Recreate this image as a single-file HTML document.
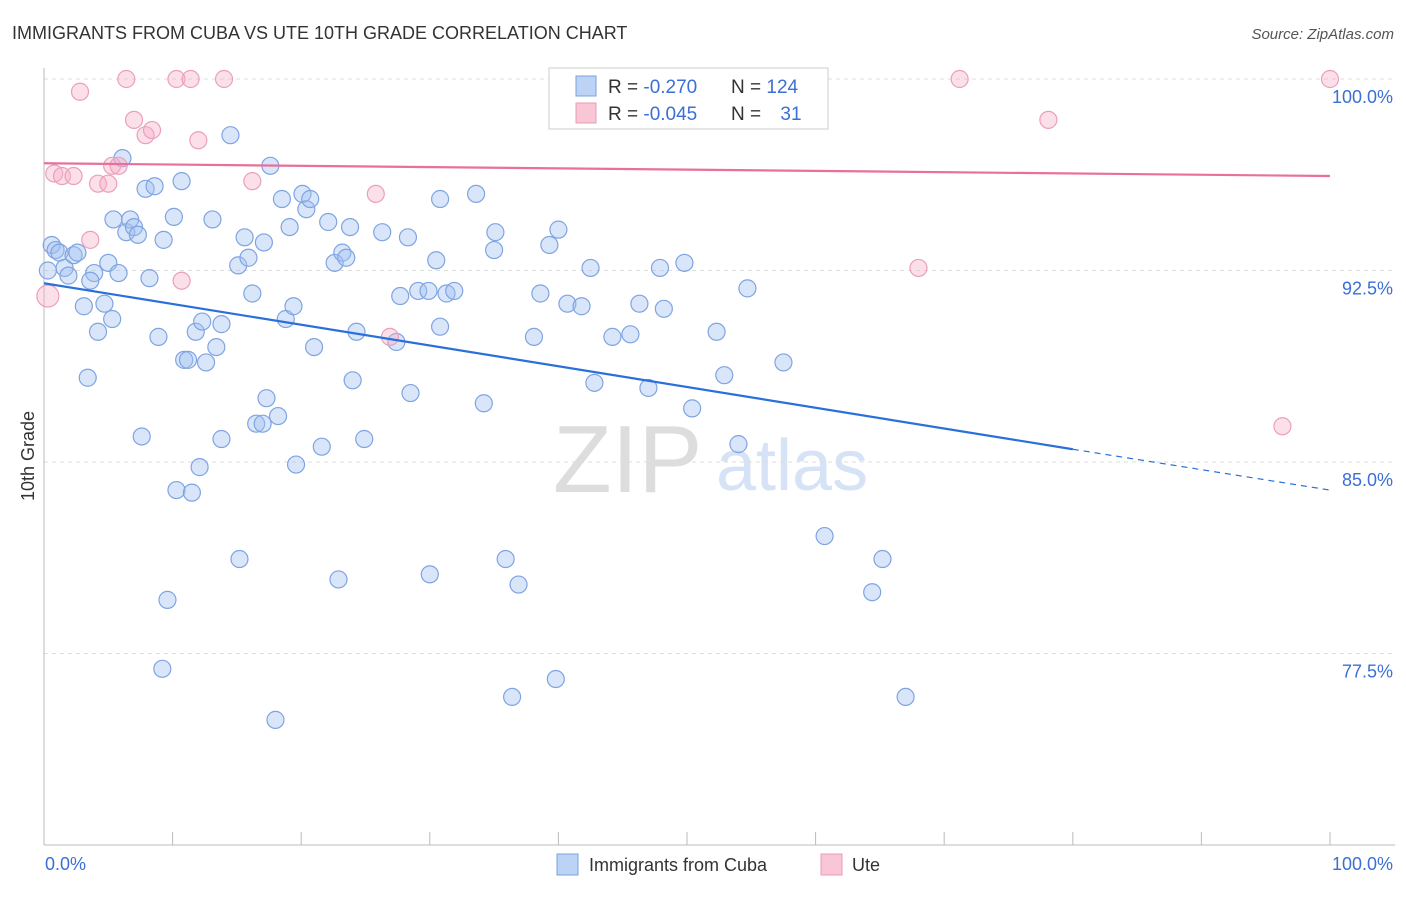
<!DOCTYPE html>
<html><head><meta charset="utf-8"><style>
body{margin:0;background:#fff;font-family:"Liberation Sans",sans-serif;}
svg text{font-family:"Liberation Sans",sans-serif;}
</style></head><body>
<svg id="chart" width="1406" height="892" viewBox="0 0 1406 892" xmlns="http://www.w3.org/2000/svg">
<text x="12" y="39" font-size="18" fill="#333">IMMIGRANTS FROM CUBA VS UTE 10TH GRADE CORRELATION CHART</text>
<text x="1394" y="39" font-size="15" fill="#555" text-anchor="end" font-style="italic">Source: ZipAtlas.com</text>
<text transform="translate(34,456) rotate(-90)" font-size="18" fill="#333" text-anchor="middle">10th Grade</text>
<g>
<text x="553" y="492" font-size="96" fill="#ddd" font-family="Liberation Serif">ZIP</text>
<text x="716" y="490" font-size="72" fill="#d6e2f5">atlas</text>
</g>
<g id="grid"></g><g id="axes"></g><g id="pts"></g><g id="trends"></g>
<g>
<rect x="549" y="68" width="279" height="61" fill="#fff" stroke="#ccc"/>
<rect x="576" y="76" width="20" height="20" fill="#bcd3f5" stroke="#7aa0e0"/>
<rect x="576" y="103" width="20" height="20" fill="#f9c6d6" stroke="#e99ab5"/>
<text x="608" y="93" font-size="19" fill="#333">R = <tspan fill="#3b6fd6">-0.270</tspan></text>
<text x="731" y="93" font-size="19" fill="#333">N = <tspan fill="#3b6fd6">124</tspan></text>
<text x="608" y="120" font-size="19" fill="#333">R = <tspan fill="#3b6fd6">-0.045</tspan></text>
<text x="731" y="120" font-size="19" fill="#333">N = <tspan fill="#3b6fd6" dx="14">31</tspan></text>
</g>
<g>
<rect x="557" y="854" width="21" height="21" fill="#bcd3f5" stroke="#7aa0e0"/>
<text x="589" y="871" font-size="18" fill="#333">Immigrants from Cuba</text>
<rect x="821" y="854" width="21" height="21" fill="#f9c6d6" stroke="#e99ab5"/>
<text x="852" y="871" font-size="18" fill="#333">Ute</text>
</g>
</svg>
<script>
const yTicks=[100,92.5,85,77.5];
const yTickLabels=["100.0%","92.5%","85.0%","77.5%"];
const xEndLabels=["0.0%","100.0%"];
const cubaX=[0.6,0.9,1.2,1.6,1.9,2.3,2.6,0.3,3.1,3.4,3.9,3.6,4.2,4.7,5.0,5.3,5.4,5.8,6.1,6.4,6.7,7.0,7.3,7.6,7.9,8.2,8.6,8.9,9.3,9.6,9.2,10.1,10.3,10.7,10.9,11.2,11.5,11.8,12.1,12.3,12.6,13.1,13.4,13.8,13.8,14.5,15.1,15.2,15.6,15.9,16.2,16.5,17.0,17.1,17.3,17.6,18.0,18.2,18.5,18.8,19.1,19.4,19.6,20.1,20.4,20.7,21.0,21.6,22.1,22.6,22.9,23.2,23.5,23.8,24.0,24.3,24.9,26.3,27.4,27.7,28.5,28.3,29.1,29.9,30.0,30.5,30.8,30.8,31.3,31.9,33.6,34.2,35.0,35.1,35.9,36.9,38.1,38.6,39.3,39.8,40.0,40.7,41.8,42.5,42.8,44.2,45.6,46.3,47.0,47.9,48.2,49.8,50.4,52.3,52.9,54.0,54.7,57.5,60.7,64.4,65.2,67.0,36.4];
const cubaY=[93.5,93.3,93.2,92.6,92.3,93.1,93.2,92.5,91.1,88.3,92.4,92.1,90.1,91.2,92.8,90.6,94.5,92.4,96.9,94.0,94.5,94.2,93.9,86.0,95.7,92.2,95.8,89.9,93.7,79.6,76.9,94.6,83.9,96.0,89.0,89.0,83.8,90.1,84.8,90.5,88.9,94.5,89.5,90.4,85.9,97.8,92.7,81.2,93.8,93.0,91.6,86.5,86.5,93.6,87.5,96.6,74.9,86.8,95.3,90.6,94.2,91.1,84.9,95.5,94.9,95.3,89.5,85.6,94.4,92.8,80.4,93.2,93.0,94.2,88.2,90.1,85.9,94.0,89.7,91.5,87.7,93.8,91.7,91.7,80.6,92.9,95.3,90.3,91.6,91.7,95.5,87.3,93.3,94.0,81.2,80.2,89.9,91.6,93.5,76.5,94.1,91.2,91.1,92.6,88.1,89.9,90.0,91.2,87.9,92.6,91.0,92.8,87.1,90.1,88.4,85.7,91.8,88.9,82.1,79.9,81.2,75.8,75.8];
const uteX=[0.3,0.8,1.4,2.3,2.8,3.6,4.2,5.0,5.3,5.8,6.4,7.0,7.9,8.4,10.3,10.7,11.4,12.0,14.0,16.2,25.8,26.9,52.3,68.0,71.2,78.1,96.3,100];
const uteY=[91.5,96.3,96.2,96.2,99.5,93.7,95.9,95.9,96.6,96.6,100,98.4,97.8,98.0,100,92.1,100,97.6,100,96.0,95.5,89.9,100,92.6,100,98.4,86.4,100];
const cubaTrend=[92.0,85.5,83.9]; // at x=0, 80, 100
const cubaTrendX=[0,80,100];
const uteTrend=[96.7,96.2];
const uteTrendX=[0,100];

const X0=44,X1=1330,Y0=845,Y1=79,YMIN=70,YMAX=100;
const sx=v=>X0+(X1-X0)*v/100;
const sy=v=>Y0-(Y0-Y1)*(v-YMIN)/(YMAX-YMIN);
const NS="http://www.w3.org/2000/svg";
function mk(tag,attrs,parent){const e=document.createElementNS(NS,tag);for(const k in attrs)e.setAttribute(k,attrs[k]);document.getElementById(parent).appendChild(e);return e;}

yTicks.forEach((t,i)=>{
  const l=mk('line',{x1:X0,x2:1395,y1:sy(t),y2:sy(t),stroke:'#ddd','stroke-dasharray':'4,4'},'grid');
  
  
  const tx=mk('text',{x:1393,y:sy(t)+24,'font-size':18,fill:'#3b6fd6','text-anchor':'end'},'grid');
  tx.textContent=yTickLabels[i];
  
  
});
const ax=mk('line',{x1:X0,x2:1395,y1:Y0,y2:Y0,stroke:'#bbb'},'axes');


const ay=mk('line',{x1:X0,x2:X0,y1:68,y2:Y0,stroke:'#bbb'},'axes');


for(let i=0;i<=10;i++){
  const t=mk('line',{x1:sx(i*10),x2:sx(i*10),y1:Y0-13,y2:Y0,stroke:'#bbb'},'axes');
  
  
}
[[0,'start',45],[100,'end',1393]].forEach((d,i)=>{
  const t=mk('text',{x:d[2],y:870,'font-size':18,fill:'#3b6fd6','text-anchor':d[1]},'axes');
  t.textContent=xEndLabels[i];
  
  
});
cubaX.forEach((x,i)=>{
  const c=mk('circle',{cx:sx(x),cy:sy(cubaY[i]),r:8.5,fill:'rgba(160,192,240,0.4)',stroke:'#7fa4e2','stroke-width':1.2},'pts');
  
  
});
uteX.forEach((x,i)=>{
  const c=mk('circle',{cx:sx(x),cy:sy(uteY[i]),r:i===0?11:8.5,fill:'rgba(246,176,200,0.4)',stroke:'#ec9fbb','stroke-width':1.2},'pts');
  
  
});
const bt=mk('line',{x1:sx(cubaTrendX[0]),y1:sy(cubaTrend[0]),x2:sx(cubaTrendX[1]),y2:sy(cubaTrend[1]),stroke:'#2a6fdb','stroke-width':2.2},'trends');


const bd=mk('line',{x1:sx(cubaTrendX[1]),y1:sy(cubaTrend[1]),x2:sx(cubaTrendX[2]),y2:sy(cubaTrend[2]),stroke:'#2a6fdb','stroke-width':1.2,'stroke-dasharray':'6,5'},'trends');


const pt=mk('line',{x1:sx(uteTrendX[0]),y1:sy(uteTrend[0]),x2:sx(uteTrendX[1]),y2:sy(uteTrend[1]),stroke:'#e8709a','stroke-width':2.2},'trends');


</script>
</body></html>
